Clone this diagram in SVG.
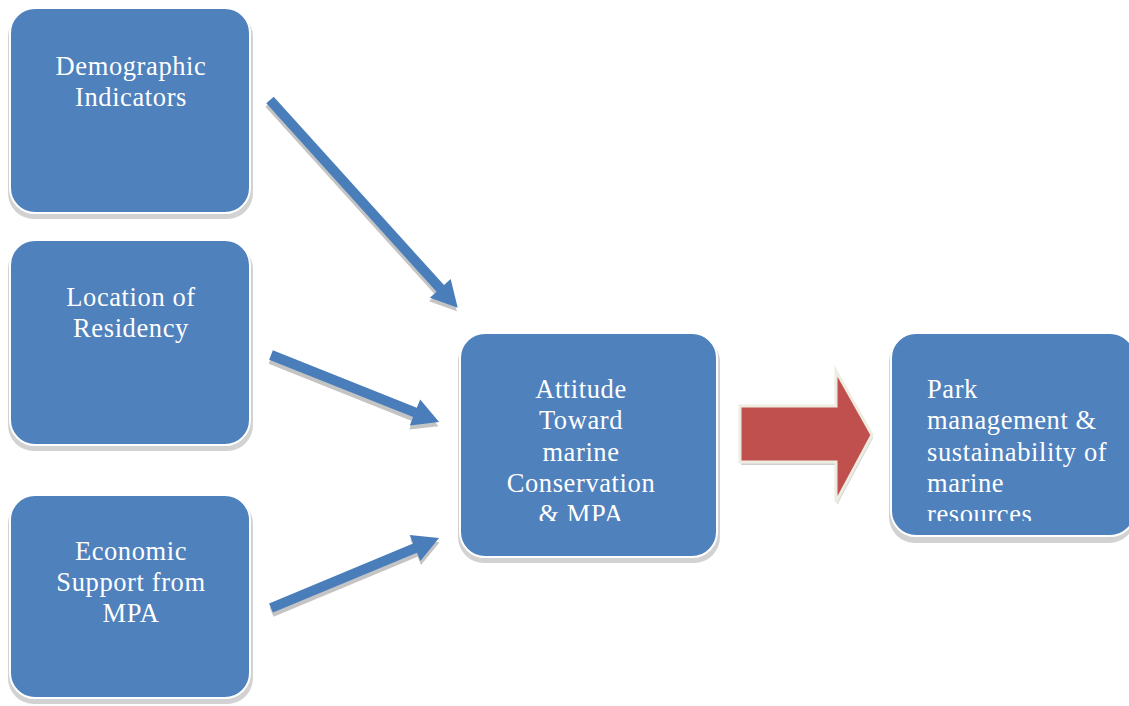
<svg xmlns="http://www.w3.org/2000/svg" width="1129" height="706" viewBox="0 0 1129 706">
<defs>
<style>
.box{fill:#4F81BD;stroke:#FFFFFF;stroke-width:2}
.shadow{fill:#D2D2D2}
.lbl{font-family:"Liberation Serif","DejaVu Serif",serif;font-size:26.5px;fill:#FFFFFF;letter-spacing:0.6px}
.c{text-anchor:middle}
.arr{fill:#4A7EBB}
.arrsh{fill:#C4C4C4}
</style>
<clipPath id="clipC"><rect x="460" y="340" width="257" height="181"/></clipPath>
<clipPath id="clipR"><rect x="892" y="340" width="237" height="181"/></clipPath>
</defs>
<rect width="1129" height="706" fill="#FFFFFF"/>

<g id="n1">
<rect class="shadow" x="8" y="11" width="245" height="208" rx="26"/>
<rect class="box" x="10" y="8" width="240" height="205" rx="25"/>
<text class="lbl c" x="131" y="75">Demographic</text>
<text class="lbl c" x="131" y="106">Indicators</text>
</g>

<g id="n2">
<rect class="shadow" x="8" y="243" width="245" height="208" rx="26"/>
<rect class="box" x="10" y="240" width="240" height="205" rx="25"/>
<text class="lbl c" x="131" y="306">Location of</text>
<text class="lbl c" x="131" y="337">Residency</text>
</g>

<g id="n3">
<rect class="shadow" x="8" y="498" width="245" height="206" rx="26"/>
<rect class="box" x="10" y="495" width="240" height="203" rx="25"/>
<text class="lbl c" x="131" y="560">Economic</text>
<text class="lbl c" x="131" y="591">Support from</text>
<text class="lbl c" x="131" y="622">MPA</text>
</g>

<g id="n4">
<rect class="shadow" x="458" y="336" width="262" height="227" rx="26"/>
<rect class="box" x="460" y="333" width="257" height="224" rx="25"/>
<g clip-path="url(#clipC)">
<text class="lbl c" x="581" y="398">Attitude</text>
<text class="lbl c" x="581" y="429">Toward</text>
<text class="lbl c" x="581" y="461">marine</text>
<text class="lbl c" x="581" y="492">Conservation</text>
<text class="lbl c" x="581" y="523">&amp; MPA</text>
</g>
</g>

<g id="n5">
<rect class="shadow" x="889" y="336" width="246" height="207" rx="26"/>
<rect class="box" x="891" y="333" width="244" height="203" rx="25"/>
<g clip-path="url(#clipR)">
<text class="lbl" x="927" y="398">Park</text>
<text class="lbl" x="927" y="429">management &amp;</text>
<text class="lbl" x="927" y="461">sustainability of</text>
<text class="lbl" x="927" y="492">marine</text>
<text class="lbl" x="927" y="523">resources</text>
</g>
</g>

<g id="connectors">
<g transform="translate(270,100) rotate(47.9)">
<path class="arrsh" transform="translate(2,3)" d="M0,-5 L254,-5 L254,-14 L280,0 L254,14 L254,5 L0,5 Z"/>
<path class="arr" d="M0,-5 L254,-5 L254,-14 L280,0 L254,14 L254,5 L0,5 Z"/>
</g>
<g transform="translate(271,355) rotate(21.75)">
<path class="arrsh" transform="translate(1,4)" d="M0,-5 L155,-5 L155,-14 L181,0 L155,14 L155,5 L0,5 Z"/>
<path class="arr" d="M0,-5 L155,-5 L155,-14 L181,0 L155,14 L155,5 L0,5 Z"/>
</g>
<g transform="translate(271,608) rotate(-22.6)">
<path class="arrsh" transform="translate(-1,4)" d="M0,-5 L156,-5 L156,-14 L182,0 L156,14 L156,5 L0,5 Z"/>
<path class="arr" d="M0,-5 L156,-5 L156,-14 L182,0 L156,14 L156,5 L0,5 Z"/>
</g>
<g id="bigarrow">
<polygon points="741,410 837,410 837,375 873,438 837,505 837,465 741,465" fill="#CFCFCF"/>
<polygon points="740,406 836,406 836,371 872,435 836,502 836,462 740,462" fill="#C0504D" stroke="#EEECE1" stroke-width="3" stroke-linejoin="miter"/>
</g>
</g>
</svg>
